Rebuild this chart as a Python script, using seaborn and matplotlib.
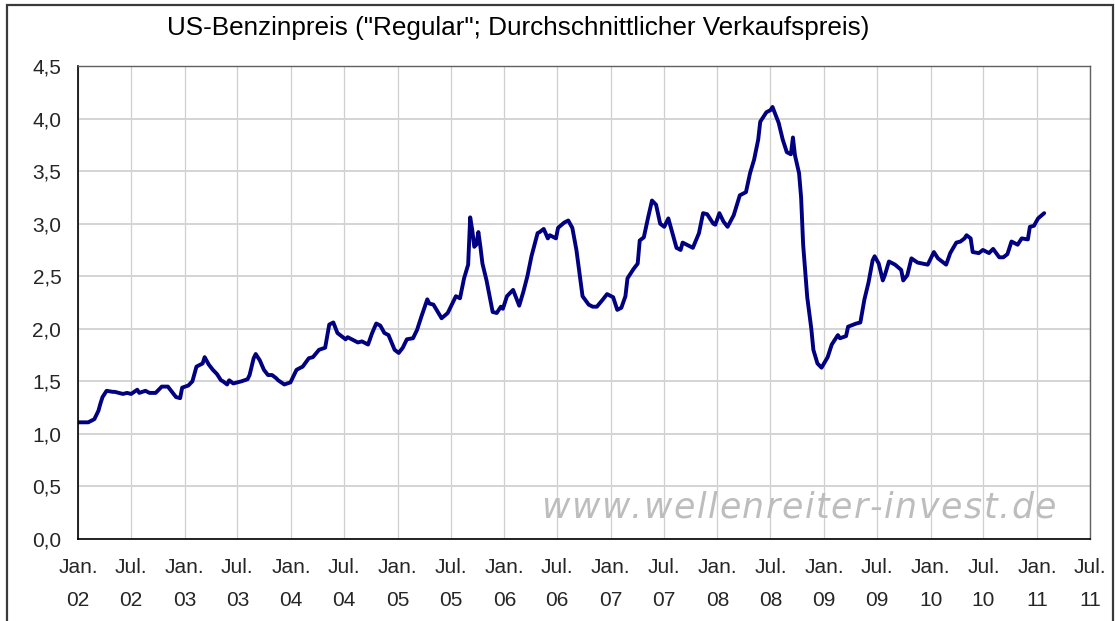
import matplotlib

matplotlib.use("Agg")

import matplotlib.pyplot as plt
import matplotlib.patches as mpatches
import pandas as pd
import seaborn as sns

# weekly readings, week number counted from 2002-01-01
weeks = [
    0, 5, 7, 8, 10, 11, 12, 14, 17, 18, 22, 24, 26, 29, 30, 33, 35, 38, 41, 44,
    46, 48, 50, 51, 54, 56, 58, 61, 62, 64, 66, 68, 70, 71, 73, 74, 76, 78, 80, 83,
    84, 86, 87, 89, 91, 93, 95, 97, 98, 101, 104, 107, 110, 113, 115, 118, 121, 123, 125, 127,
    131, 132, 137, 139, 142, 144, 146, 148, 150, 152, 155, 157, 159, 161, 164, 166, 168, 171, 172, 174,
    178, 181, 183, 185, 187, 189, 191, 192, 193, 194, 195, 196, 197, 198, 200, 203, 205, 207, 208, 210,
    213, 216, 218, 220, 222, 225, 226, 228, 230, 231, 234, 235, 238, 240, 242, 244, 247, 250, 252, 254,
    257, 259, 262, 264, 266, 268, 269, 272, 274, 275, 277, 279, 281, 283, 285, 287, 289, 291, 293, 295,
    296, 299, 301, 304, 306, 308, 311, 312, 314, 316, 318, 321, 324, 327, 329, 331, 333, 334, 337, 339,
    340, 343, 345, 347, 349, 350, 351, 353, 354, 355, 357, 359, 360, 362, 364, 367, 369, 372, 373, 376,
    377, 381, 383, 385, 387, 389, 390, 392, 394, 395, 397, 400, 403, 404, 406, 408, 411, 416, 419, 421,
    425, 427, 430, 432, 434, 435, 437, 438, 441, 443, 446, 448, 451, 453, 455, 457, 460, 462, 465, 466,
    468, 470, 473,
]
prices = [
    1.11, 1.11, 1.13, 1.14, 1.22, 1.29, 1.35, 1.41, 1.40, 1.40, 1.38, 1.39, 1.38, 1.42, 1.39, 1.41, 1.39, 1.39, 1.45, 1.45,
    1.40, 1.35, 1.34, 1.44, 1.46, 1.50, 1.64, 1.67, 1.73, 1.66, 1.61, 1.57, 1.51, 1.50, 1.47, 1.51, 1.48, 1.49, 1.50, 1.52,
    1.56, 1.72, 1.76, 1.70, 1.61, 1.56, 1.56, 1.53, 1.51, 1.47, 1.49, 1.61, 1.64, 1.72, 1.73, 1.80, 1.82, 2.04, 2.06, 1.96,
    1.90, 1.92, 1.87, 1.88, 1.85, 1.96, 2.05, 2.03, 1.96, 1.94, 1.80, 1.77, 1.82, 1.90, 1.91, 1.99, 2.11, 2.28, 2.24, 2.23,
    2.10, 2.15, 2.23, 2.31, 2.29, 2.48, 2.61, 3.06, 2.94, 2.78, 2.80, 2.92, 2.78, 2.62, 2.46, 2.16, 2.15, 2.21, 2.19, 2.31,
    2.37, 2.22, 2.35, 2.50, 2.69, 2.91, 2.92, 2.95, 2.86, 2.89, 2.86, 2.96, 3.01, 3.03, 2.96, 2.75, 2.31, 2.23, 2.21, 2.21,
    2.28, 2.33, 2.30, 2.18, 2.20, 2.31, 2.48, 2.57, 2.62, 2.84, 2.87, 3.05, 3.22, 3.18, 3.00, 2.97, 3.05, 2.91, 2.77, 2.75,
    2.82, 2.79, 2.77, 2.91, 3.10, 3.09, 3.00, 2.99, 3.10, 3.02, 2.97, 3.08, 3.27, 3.30, 3.48, 3.61, 3.80, 3.97, 4.06, 4.08,
    4.11, 3.96, 3.80, 3.68, 3.66, 3.82, 3.65, 3.48, 3.25, 2.80, 2.30, 2.00, 1.80, 1.67, 1.63, 1.73, 1.85, 1.94, 1.91, 1.93,
    2.02, 2.05, 2.06, 2.28, 2.44, 2.65, 2.69, 2.62, 2.46, 2.51, 2.64, 2.61, 2.56, 2.46, 2.51, 2.67, 2.63, 2.61, 2.73, 2.67,
    2.61, 2.72, 2.82, 2.83, 2.86, 2.89, 2.86, 2.73, 2.72, 2.75, 2.72, 2.76, 2.68, 2.68, 2.71, 2.83, 2.80, 2.86, 2.85, 2.97,
    2.98, 3.05, 3.10,
]

tick_dates = pd.date_range("2002-01-01", "2011-07-01", freq="6MS")
tick_labels = [f"{'Jan.' if d.month == 1 else 'Jul.'}\n{d.year % 100:02d}" for d in tick_dates]
y_ticks = [0.0, 0.5, 1.0, 1.5, 2.0, 2.5, 3.0, 3.5, 4.0, 4.5]
y_labels = ["0,0", "0,5", "1,0", "1,5", "2,0", "2,5", "3,0", "3,5", "4,0", "4,5"]

title = 'US-Benzinpreis ("Regular"; Durchschnittlicher Verkaufspreis)'
watermark = "www.wellenreiter-invest.de"

sns.set_style("white")
plt.rcParams["font.family"] = ["Liberation Sans", "DejaVu Sans"]

df = pd.DataFrame({
    "date": pd.Timestamp("2002-01-01") + pd.to_timedelta([w * 7 for w in weeks], unit="D"),
    "price": prices,
})

fig = plt.figure(figsize=(11.15, 6.21), dpi=100)
ax = fig.add_axes([78 / 1115, 1 - 539 / 621, (1090 - 78) / 1115, (539 - 66) / 621])

# outer chart frame
fig.patches.append(mpatches.Rectangle(
    (7 / 1115, -0.05), (1113 - 7) / 1115, 1.05 - 5 / 621,
    transform=fig.transFigure, fill=False, edgecolor="#3a3a3a", linewidth=1.6,
))

sns.lineplot(data=df, x="date", y="price", color="#000080", linewidth=2.8, ax=ax)

ax.set_xlim(tick_dates[0], tick_dates[-1])
ax.set_ylim(0, 4.5)
ax.set_xticks(tick_dates)
ax.set_xticklabels(tick_labels, fontsize=15, linespacing=1.9)
ax.set_yticks(y_ticks)
ax.set_yticklabels(y_labels, fontsize=15)
ax.set_xlabel("")
ax.set_ylabel("")

ax.grid(axis="y", color="#d4d4d4", linewidth=1.4)
ax.grid(axis="x", color="#cfcfcf", linewidth=0.9)
ax.set_axisbelow(True)

ax.tick_params(axis="both", direction="out", length=5, width=1, color="black", pad=7)
ax.tick_params(axis="x", pad=9)
for side in ["left", "bottom"]:
    ax.spines[side].set_color("black")
    ax.spines[side].set_linewidth(1.2)
for side in ["top", "right"]:
    ax.spines[side].set_color("#606060")
    ax.spines[side].set_linewidth(1.0)

fig.text(518 / 1115, 1 - 28 / 621, title, ha="center", va="center", fontsize=18.8, color="black")

# watermark, drawn letter by letter to get the wide spacing
fig.canvas.draw()
renderer = fig.canvas.get_renderer()
x_px = 541
for ch in watermark:
    t = fig.text(x_px / 1115, 1 - 508 / 621, ch, ha="left", va="center", fontsize=25,
                 family="DejaVu Sans", style="italic", color="#bdbdbd")
    bb = t.get_window_extent(renderer)
    x_px += bb.width + 1.6

fig.savefig("out.png", dpi=100)
plt.close(fig)
print("Saved out.png")
